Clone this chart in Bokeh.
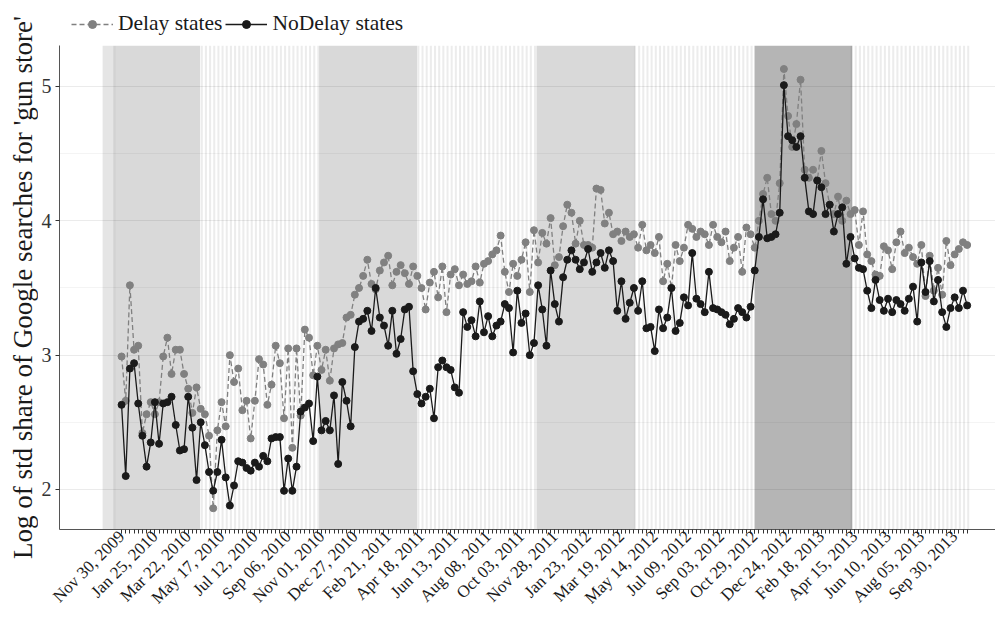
import math
from bokeh.plotting import figure
from bokeh.layouts import row, column
from bokeh.models import Range1d, FixedTicker, Legend, LegendItem
from bokeh.core.properties import value
from bokeh.embed import file_html
from bokeh.resources import INLINE

# ---------------- data ----------------
tick_labels = ["Nov 30, 2009", "Jan 25, 2010", "Mar 22, 2010", "May 17, 2010", "Jul 12, 2010",
               "Sep 06, 2010", "Nov 01, 2010", "Dec 27, 2010", "Feb 21, 2011", "Apr 18, 2011",
               "Jun 13, 2011", "Aug 08, 2011", "Oct 03, 2011", "Nov 28, 2011", "Jan 23, 2012",
               "Mar 19, 2012", "May 14, 2012", "Jul 09, 2012", "Sep 03, 2012", "Oct 29, 2012",
               "Dec 24, 2012", "Feb 18, 2013", "Apr 15, 2013", "Jun 10, 2013", "Aug 05, 2013",
               "Sep 30, 2013"]
label_every = 8  # weeks between labelled ticks

delay = [
    2.99, 2.66, 3.52, 3.04, 3.07, 2.42, 2.56, 2.65, 2.56, 2.65, 2.99, 3.13, 2.86, 3.04, 3.04, 2.86,
    2.75, 2.57, 2.76, 2.60, 2.56, 2.40, 1.86, 2.44, 2.65, 2.47, 3.00, 2.80, 2.90, 2.59, 2.66, 2.38,
    2.66, 2.97, 2.93, 2.63, 2.78, 3.07, 2.94, 2.53, 3.05, 2.31, 3.05, 2.55, 3.19, 3.13, 2.85, 3.07,
    2.89, 3.04, 2.81, 3.05, 3.08, 3.09,
    3.28, 3.30, 3.45, 3.50, 3.59, 3.71, 3.53, 3.49, 3.63, 3.69, 3.74, 3.52, 3.62, 3.67, 3.61, 3.53,
    3.66, 3.59, 3.50, 3.34, 3.54, 3.62, 3.43, 3.66, 3.32, 3.60, 3.64, 3.52, 3.60, 3.53, 3.55, 3.66,
    3.54, 3.68, 3.70, 3.75, 3.78, 3.89, 3.62, 3.47, 3.68, 3.59, 3.71, 3.84, 3.47, 3.93, 3.69, 3.91,
    3.83, 4.02, 3.67, 3.73, 3.96, 4.12, 4.06, 3.83, 4.00, 3.82, 3.82, 3.80, 4.24, 4.23,
    3.98, 4.06, 3.90, 3.92, 3.85, 3.92, 3.88, 3.90, 3.80, 3.97, 3.78, 3.82, 3.76, 3.88, 3.55, 3.68,
    3.50, 3.82, 3.70, 3.80, 3.97, 3.94, 3.88, 3.92, 3.90, 3.82, 3.97, 3.88, 3.84, 3.92, 3.70, 3.80,
    3.88, 3.62, 3.95, 3.90, 3.80, 4.00, 4.20, 4.32, 4.05, 4.00, 4.28, 5.13, 4.78, 4.55, 4.72, 5.05,
    4.38, 4.32, 4.38, 4.30, 4.52, 4.28, 4.12, 4.05, 4.18, 4.00, 4.15, 4.05, 4.08, 3.82, 4.07, 3.75,
    3.70, 3.60,
    3.59, 3.81, 3.78, 3.64, 3.84, 3.92, 3.76, 3.80, 3.73, 3.68, 3.82, 3.44, 3.74, 3.48, 3.65, 3.45,
    3.85, 3.67, 3.75, 3.79, 3.84, 3.82,
]

nodelay = [
    2.63, 2.10, 2.90, 2.94, 2.64, 2.40, 2.17, 2.35, 2.65, 2.34, 2.64, 2.65, 2.69, 2.48, 2.29, 2.30,
    2.69, 2.46, 2.07, 2.50, 2.33, 2.13, 1.99, 2.13, 2.37, 2.09, 1.88, 2.03, 2.21, 2.20, 2.16, 2.14,
    2.20, 2.17, 2.25, 2.21, 2.38, 2.39, 2.39, 1.99, 2.23, 1.99, 2.17, 2.58, 2.61, 2.64, 2.36, 2.84,
    2.44, 2.51, 2.44, 2.70, 2.19, 2.80,
    2.66, 2.47, 3.06, 3.25, 3.27, 3.33, 3.18, 3.50, 3.28, 3.22, 3.07, 3.33, 3.01, 3.12, 3.34, 3.36,
    2.88, 2.71, 2.64, 2.69, 2.75, 2.53, 2.91, 2.96, 2.91, 2.89, 2.76, 2.72, 3.32, 3.21, 3.26, 3.14,
    3.40, 3.17, 3.29, 3.14, 3.22, 3.25, 3.38, 3.35, 3.02, 3.48, 3.24, 3.31, 3.00, 3.09, 3.52, 3.34,
    3.07, 3.63, 3.38, 3.25, 3.58, 3.71, 3.78, 3.71, 3.64, 3.69, 3.79, 3.62, 3.69, 3.76,
    3.65, 3.78, 3.70, 3.33, 3.55, 3.27, 3.39, 3.50, 3.33, 3.55, 3.20, 3.21, 3.03, 3.34, 3.20, 3.28,
    3.50, 3.18, 3.24, 3.43, 3.37, 3.76, 3.42, 3.38, 3.32, 3.62, 3.35, 3.34, 3.32, 3.30, 3.23, 3.27,
    3.35, 3.32, 3.28, 3.36,
    3.63, 3.88, 4.16, 3.87, 3.88, 3.90, 4.06, 5.01, 4.63, 4.60, 4.55, 4.63, 4.32, 4.07, 4.05, 4.30,
    4.25, 4.05, 4.12, 3.92, 4.05, 4.10, 3.68, 3.88, 3.72, 3.65, 3.64, 3.48, 3.35, 3.56,
    3.41, 3.33, 3.42, 3.32, 3.41, 3.38, 3.33, 3.42, 3.51, 3.25, 3.69, 3.47, 3.70, 3.40, 3.56, 3.32,
    3.21, 3.35, 3.43, 3.35, 3.48, 3.37,
]

# shaded periods, in weeks from Nov 30, 2009
band_start = [-4.55, -1.6, 47.45, 99.6, 151.95]
band_end = [-1.6, 18.85, 70.95, 123.2, 175.4]
band_alpha = [0.10, 0.15, 0.15, 0.15, 0.29]
bg_start, bg_end = -4.55, 203.8

y_title = "Log of std share of Google searches for 'gun store'"
series_names = ["Delay states", "NoDelay states"]

weeks = list(range(len(delay)))
label_ticks = [i * label_every for i in range(len(tick_labels))]

y_lo, y_hi = 1.702, 5.305
SERIF = "Liberation Serif"
W, H = 995, 618
LEFT_W = 38      # strip with the y-axis title
TOP_H = 45       # strip with the legend
GREY, BLACK = "#808080", "#1a1a1a"


def bare(fig):
    fig.outline_line_color = None
    fig.xgrid.visible = False
    fig.ygrid.visible = False
    fig.frame_align = False
    return fig


# ---- narrow strip holding the (long) y-axis title ----
pt = bare(figure(width=LEFT_W, height=H, output_backend="svg", toolbar_location=None,
                 x_range=Range1d(0, LEFT_W), y_range=Range1d(0, H),
                 x_axis_location=None, y_axis_location=None, min_border=0))
pt.text(x=[22], y=[H - 287], text=[y_title], angle=math.pi / 2, text_align="center",
        text_baseline="middle", text_font=value(SERIF), text_font_size=value("27px"),
        text_color=BLACK)

# ---- strip holding the legend (series drawn outside its 0..1 y range, keys only) ----
pl = bare(figure(width=W - LEFT_W, height=TOP_H, output_backend="svg", toolbar_location=None,
                 x_range=Range1d(0, 1), y_range=Range1d(0, 1),
                 x_axis_location=None, y_axis_location=None, min_border=0))
k_dl = pl.line(weeks, delay, line_color=GREY, line_width=1.3, line_dash="5 3")
k_dp = pl.scatter(weeks, delay, size=7, fill_color=GREY, line_color=GREY)
k_nl = pl.line(weeks, nodelay, line_color=BLACK, line_width=1.3)
k_np = pl.scatter(weeks, nodelay, size=7, fill_color=BLACK, line_color=BLACK)
legend = Legend(items=[LegendItem(label=series_names[0], renderers=[k_dl, k_dp]),
                       LegendItem(label=series_names[1], renderers=[k_nl, k_np])],
                orientation="horizontal", location=(33, 9))
legend.label_text_font = SERIF
legend.label_text_font_size = "21.5px"
legend.label_text_color = BLACK
legend.glyph_width = 42
legend.glyph_height = 20
legend.label_standoff = 5
legend.spacing = 3
legend.padding = 4
legend.margin = 0
legend.border_line_color = None
legend.background_fill_alpha = 0
pl.add_layout(legend)

# ---- main chart ----
p = figure(width=W - LEFT_W, height=H - TOP_H, output_backend="svg", toolbar_location=None,
           x_range=Range1d(-14.9, 209.8), y_range=Range1d(y_lo, y_hi),
           min_border_left=58 - LEFT_W, min_border_right=0, min_border_top=0,
           min_border_bottom=89)
p.outline_line_color = None
p.background_fill_color = "white"

# background stripes (one per week) outside the shaded periods
st_l, st_r = [], []
for k in range(math.floor(bg_start), math.ceil(bg_end)):
    l = max(float(k), bg_start)
    r = min(k + 0.5, bg_end)
    inside = any(s <= l and r <= e for s, e in zip(band_start, band_end))
    if r > l and not inside:
        st_l.append(l)
        st_r.append(r)
p.quad(left=st_l, right=st_r, bottom=y_lo, top=y_hi, fill_color="black", fill_alpha=0.075,
       line_color=None)
p.quad(left=band_start, right=band_end, bottom=y_lo, top=y_hi, fill_color="black",
       fill_alpha=band_alpha, line_color=None)

# series
p.line(weeks, delay, line_color=GREY, line_width=1.3, line_dash="5 3")
p.scatter(weeks, delay, size=7, fill_color=GREY, line_color=GREY)
p.line(weeks, nodelay, line_color=BLACK, line_width=1.3)
p.scatter(weeks, nodelay, size=7, fill_color=BLACK, line_color=BLACK)

# grid
p.xgrid.visible = False
p.ygrid.grid_line_color = "#ebebeb"
p.ygrid.grid_line_width = 1
p.ygrid.minor_grid_line_color = "#efefef"
p.ygrid.minor_grid_line_width = 0.7

# x axis
xa = p.xaxis[0]
xa.ticker = FixedTicker(ticks=label_ticks, minor_ticks=weeks)
xa.major_label_overrides = {t: lab for t, lab in zip(label_ticks, tick_labels)}
xa.major_label_orientation = math.pi / 4
xa.major_label_text_font = SERIF
xa.major_label_text_font_size = "17px"
xa.major_label_text_color = BLACK
xa.major_label_standoff = 0
xa.axis_line_color = "#555555"
xa.major_tick_line_color = "#333333"
xa.minor_tick_line_color = "#333333"
xa.major_tick_out = 4
xa.major_tick_in = 0
xa.minor_tick_out = 4
xa.minor_tick_in = 0

# y axis
ya = p.yaxis[0]
ya.ticker = FixedTicker(ticks=[2, 3, 4, 5], minor_ticks=[2.5, 3.5, 4.5])
ya.major_label_text_font = SERIF
ya.major_label_text_font_size = "20px"
ya.major_label_text_color = "#333333"
ya.major_label_standoff = 4
ya.axis_line_color = "#555555"
ya.major_tick_line_color = "#333333"
ya.major_tick_out = 4
ya.major_tick_in = 0
ya.minor_tick_line_color = None

layout = row(pt, column(pl, p))
open("out.html", "w").write(file_html(layout, INLINE))
